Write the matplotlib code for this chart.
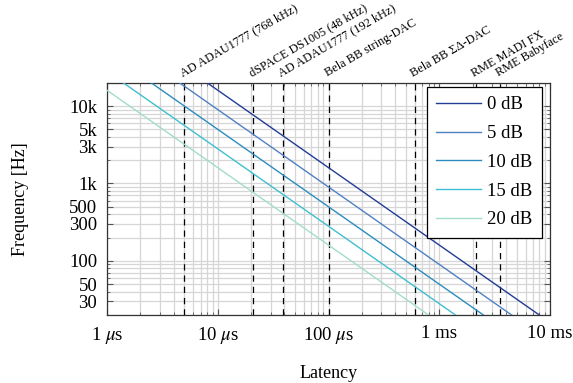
import matplotlib
matplotlib.use("Agg")
import matplotlib.pyplot as plt
from matplotlib.ticker import FixedLocator, FixedFormatter, LogLocator, NullFormatter

plt.rcParams["font.family"] = ["Liberation Serif", "DejaVu Serif"]
plt.rcParams["mathtext.fontset"] = "stix"

# latency [s] at the two ends of each line (read at 20 kHz and 20 Hz)
freq_ends = [20000, 20]
lat_0db = [8.0e-6, 8.0e-3]
lat_5db = [4.5e-6, 4.5e-3]
lat_10db = [2.5e-6, 2.5e-3]
lat_15db = [1.4e-6, 1.4e-3]
lat_20db = [0.8e-6, 0.8e-3]
series_labels = ["0 dB", "5 dB", "10 dB", "15 dB", "20 dB"]
series_colors = ["#223c96", "#4f80c4", "#2b8cbf", "#3ebfd0", "#a3dccb"]

# devices and their latency [s]
devices = ["AD ADAU1777 (768 kHz)", "dSPACE DS1005 (48 kHz)", "AD ADAU1777 (192 kHz)",
           "Bela BB string-DAC", "Bela BB ΣΔ-DAC", "RME MADI FX", "RME Babyface"]
device_lat = [5e-6, 20.8e-6, 38.5e-6, 100e-6, 0.6e-3, 2.13e-3, 3.5e-3]

xticks = [1e-6, 1e-5, 1e-4, 1e-3, 1e-2]
xtick_labels = ["1 $\\mu$s", "10 $\\mu$s", "100 $\\mu$s", "1 ms", "10 ms"]
yticks = [30, 50, 100, 300, 500, 1000, 3000, 5000, 10000]
ytick_labels = ["30", "50", "100", "300", "500", "1k", "3k", "5k", "10k"]

fig = plt.figure(figsize=(5.73, 3.83), dpi=100)
ax = fig.add_axes([0.1867, 0.1775, 0.7733, 0.6065])
ax.set_xscale("log")
ax.set_yscale("log")
ax.set_xlim(1e-6, 1e-2)
ax.set_ylim(20, 20000)

ax.grid(True, which="both", color="#d6d6d6", linewidth=0.9, zorder=0)
ax.set_axisbelow(True)

all_lat = [lat_0db, lat_5db, lat_10db, lat_15db, lat_20db]
for lat, lab, col in zip(all_lat, series_labels, series_colors):
    ax.plot(lat, freq_ends, color=col, linewidth=1.0, label=lab, zorder=3)

for name, t in zip(devices, device_lat):
    ax.axvline(t, color="black", linestyle=(0, (5, 4)), linewidth=0.9, zorder=2)
    ax.annotate(name, xy=(t, 1.0), xycoords=("data", "axes fraction"),
                xytext=(0, 2.5), textcoords="offset points",
                rotation=30, rotation_mode="anchor", ha="left", va="bottom",
                fontsize=8.8)

ax.xaxis.set_major_locator(FixedLocator(xticks))
ax.xaxis.set_major_formatter(FixedFormatter(xtick_labels))
ax.xaxis.set_minor_locator(LogLocator(base=10, subs=range(2, 10)))
ax.xaxis.set_minor_formatter(NullFormatter())
ax.yaxis.set_major_locator(FixedLocator(yticks))
ax.yaxis.set_major_formatter(FixedFormatter(ytick_labels))
ax.yaxis.set_minor_locator(LogLocator(base=10, subs=range(1, 10)))
ax.yaxis.set_minor_formatter(NullFormatter())

ax.tick_params(which="both", direction="in", top=True, right=True,
               color="#555555", labelsize=13.5)
ax.tick_params(which="major", length=4, pad=7)
ax.tick_params(which="minor", length=2.5)
for s in ax.spines.values():
    s.set_color("#333333")
    s.set_linewidth(0.9)

ax.set_xlabel("Latency", fontsize=13, labelpad=14)
ax.set_ylabel("Frequency [Hz]", fontsize=13, labelpad=29)

leg = ax.legend(loc="upper right", bbox_to_anchor=(0.982, 0.982), fontsize=13.5,
                frameon=True, fancybox=False, edgecolor="black", framealpha=1,
                handlelength=2.4, handletextpad=0.35, labelspacing=0.62,
                borderpad=0.5, borderaxespad=0)
leg.get_frame().set_linewidth(0.9)

fig.savefig("out.png", dpi=100)
